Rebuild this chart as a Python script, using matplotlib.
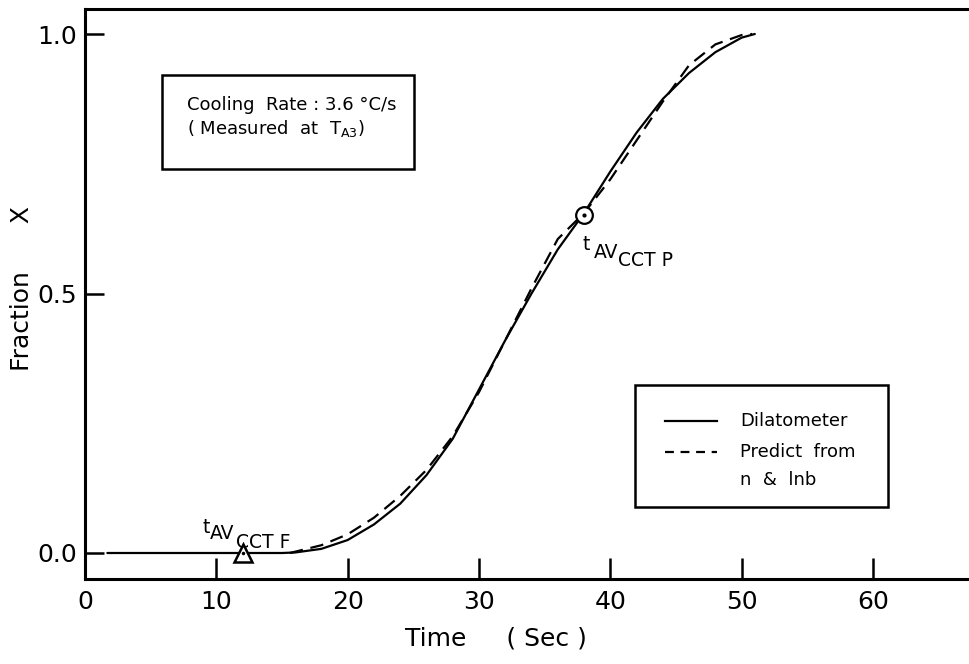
import matplotlib
matplotlib.use("Agg")
import matplotlib.pyplot as plt
from matplotlib.patches import Rectangle
from matplotlib.lines import Line2D

plt.rcParams['font.family'] = ['DejaVu Sans']
plt.rcParams['mathtext.default'] = 'regular'

# Measured transformed fraction (dilatometer)
dil_time = [1.7, 5, 10, 15, 16, 18, 20, 22, 24, 26, 28, 30, 32, 34, 36, 38,
            40, 42, 44, 46, 48, 50, 51]
dil_frac = [0.0, 0.0, 0.0, 0.0, 0.001, 0.008, 0.025, 0.055, 0.095, 0.15,
            0.22, 0.315, 0.41, 0.50, 0.585, 0.655, 0.735, 0.81, 0.875,
            0.925, 0.965, 0.993, 1.0]

# Fraction predicted from n and ln b
pred_time = [15.6, 18, 20, 22, 24, 26, 28, 30, 32, 34, 36, 38, 40, 42, 44,
             46, 48, 50, 50.8]
pred_frac = [0.0, 0.015, 0.036, 0.068, 0.11, 0.16, 0.225, 0.31, 0.41, 0.51,
             0.605, 0.655, 0.72, 0.795, 0.87, 0.94, 0.98, 0.998, 1.0]

# Characteristic times
t_cctf = (12.0, 0.0)
t_cctp = (38.0, 0.652)

x_ticks = [0, 10, 20, 30, 40, 50, 60]
y_ticks = [0.0, 0.5, 1.0]
y_tick_labels = ['0.0', '0.5', '1.0']

fig = plt.figure(figsize=(9.69, 6.64), dpi=100)
ax = fig.add_axes([85 / 969, 1 - 579 / 664, 1 - 85 / 969, (579 - 9) / 664])

ax.plot(dil_time, dil_frac, color='black', lw=1.6, solid_capstyle='round')
ax.plot(pred_time, pred_frac, color='black', lw=1.6, dashes=(6, 3.5))

ax.plot([t_cctf[0]], [t_cctf[1]], marker='^', ms=13, mfc='white', mec='black',
        mew=1.8, ls='none', zorder=5)
ax.plot([t_cctp[0]], [t_cctp[1]], marker='o', ms=12, mfc='white', mec='black',
        mew=1.6, ls='none', zorder=5)
ax.plot([t_cctp[0]], [t_cctp[1]], marker='o', ms=2, color='black', ls='none',
        zorder=6)
ax.plot([t_cctf[0]], [t_cctf[1]], marker='o', ms=1.5, color='black', ls='none',
        zorder=6)

# Subscripted time labels
lab_fs = 13.5
for txt, dx, dy in [('t', -40, 20), ('AV', -33, 14), ('CCT F', -7, 5)]:
    ax.annotate(txt, xy=t_cctf, xytext=(dx, dy), textcoords='offset pixels',
                fontsize=lab_fs, ha='left', va='baseline')
for txt, dx, dy in [('t', -2, -35), ('AV', 10, -43), ('CCT P', 34, -51)]:
    ax.annotate(txt, xy=t_cctp, xytext=(dx, dy), textcoords='offset pixels',
                fontsize=lab_fs, ha='left', va='baseline')

ax.set_xlim(0, (969 - 85) / ((873 - 85) / 60))
ax.set_ylim(-(579 - 553) / 519, (553 - 9) / 519)

ax.set_xticks(x_ticks)
ax.set_yticks(y_ticks)
ax.set_yticklabels(y_tick_labels)
ax.tick_params(axis='x', direction='in', length=15, width=1.8, labelsize=18, pad=8)
ax.tick_params(axis='y', direction='in', length=14, width=1.8, labelsize=18, pad=6)

for side in ['left', 'bottom', 'top']:
    ax.spines[side].set_linewidth(2.2)
ax.spines['right'].set_visible(False)

ax.set_xlabel('Time     ( Sec )', fontsize=18)
ax.xaxis.set_label_coords((496 - 85) / 884, -0.083)
ax.set_ylabel('Fraction      X', fontsize=18)
ax.yaxis.label.set_va('center')
ax.yaxis.set_label_coords((22 - 85) / 884, 0.509)

# Condition box
ax.add_patch(Rectangle((0.0871, 0.719), 0.285, 0.165, transform=ax.transAxes,
                       fill=False, lw=1.8, ec='black'))
ax.text(0.115, 0.832, 'Cooling  Rate : 3.6 \u00b0C/s', transform=ax.transAxes,
        fontsize=13, va='center', ha='left')
ax.text(0.115, 0.791, '( Measured  at  $T_{A3}$)', transform=ax.transAxes,
        fontsize=13, va='center', ha='left')

# Key
ax.add_patch(Rectangle((0.622, 0.126), 0.286, 0.214, transform=ax.transAxes,
                       fill=False, lw=1.8, ec='black'))
ax.add_line(Line2D([0.656, 0.715], [0.277, 0.277], transform=ax.transAxes,
                   color='black', lw=1.6))
ax.add_line(Line2D([0.656, 0.715], [0.223, 0.223], transform=ax.transAxes,
                   color='black', lw=1.6, dashes=(4, 3)))
ax.text(0.741, 0.277, 'Dilatometer', transform=ax.transAxes, fontsize=13,
        va='center', ha='left')
ax.text(0.741, 0.223, 'Predict  from', transform=ax.transAxes, fontsize=13,
        va='center', ha='left')
ax.text(0.741, 0.174, 'n  &  lnb', transform=ax.transAxes, fontsize=13,
        va='center', ha='left')

fig.savefig('out.png', dpi=100)
